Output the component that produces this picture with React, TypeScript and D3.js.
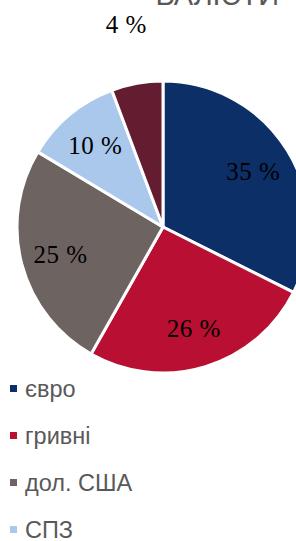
import React from "react";
import * as d3 from "d3";

// shares as drawn (angles), labels as printed
const categories = ["євро", "гривні", "дол. США", "СПЗ", "інші"];
const shares = [32.4, 25.8, 25.4, 10.7, 5.7];
const labels = ["35 %", "26 %", "25 %", "10 %", "4 %"];
const outside = [false, false, false, false, true];
const colors = ["#0B2F66", "#B80F32", "#6D6461", "#A9C8EC", "#641C30"];
const title = "ВАЛЮТИ";

const W = 296;
const H = 541;
const cx = 163;
const cy = 227;
const R = 146;

const App = () => {
  const pie = d3
    .pie<number>()
    .sort(null)
    .value(d => d);
  const arcs = pie(shares);

  const arc = d3
    .arc<d3.PieArcDatum<number>>()
    .innerRadius(0)
    .outerRadius(R);

  // label positions: inside ones at ~0.72R, the small slice outside
  const labelArc = (r: number) =>
    d3.arc<d3.PieArcDatum<number>>().innerRadius(r).outerRadius(r);
  const inLabel = labelArc(106);
  const outLabel = labelArc(206);

  const legendY = d3
    .scaleLinear()
    .domain([0, 1])
    .range([397, 444]);

  return (
    <svg
      width={W}
      height={H}
      style={{ position: "absolute", left: 0, top: 0, background: "#fff" }}
    >
      <text
        x={279}
        y={5}
        textAnchor="end"
        fontFamily="Liberation Sans, Arial, sans-serif"
        fontSize={29}
        fill="#595959"
      >
        {title}
      </text>
      <g transform={`translate(${cx},${cy})`}>
        {arcs.map((a, i) => (
          <path
            key={i}
            d={arc(a) || ""}
            fill={colors[i]}
            stroke="#fff"
            strokeWidth={3}
            strokeLinejoin="round"
          />
        ))}
        {arcs.map((a, i) => {
          const [x, y] = (outside[i] ? outLabel : inLabel).centroid(a);
          return (
            <text
              key={i}
              x={x}
              y={y}
              dy="0.35em"
              textAnchor="middle"
              fontFamily="Liberation Serif, serif"
              fontSize={25}
              letterSpacing={0.5}
              fill="#000"
            >
              {labels[i]}
            </text>
          );
        })}
      </g>
      {categories.map((c, i) => (
        <g key={c} transform={`translate(0,${legendY(i)})`}>
          <rect x={10} y={-12} width={7} height={7} fill={colors[i]} />
          <text
            x={25}
            y={0}
            fontFamily="Liberation Sans, Arial, sans-serif"
            fontSize={23.5}
            fill="#595959"
          >
            {c}
          </text>
        </g>
      ))}
    </svg>
  );
};

export default App;
